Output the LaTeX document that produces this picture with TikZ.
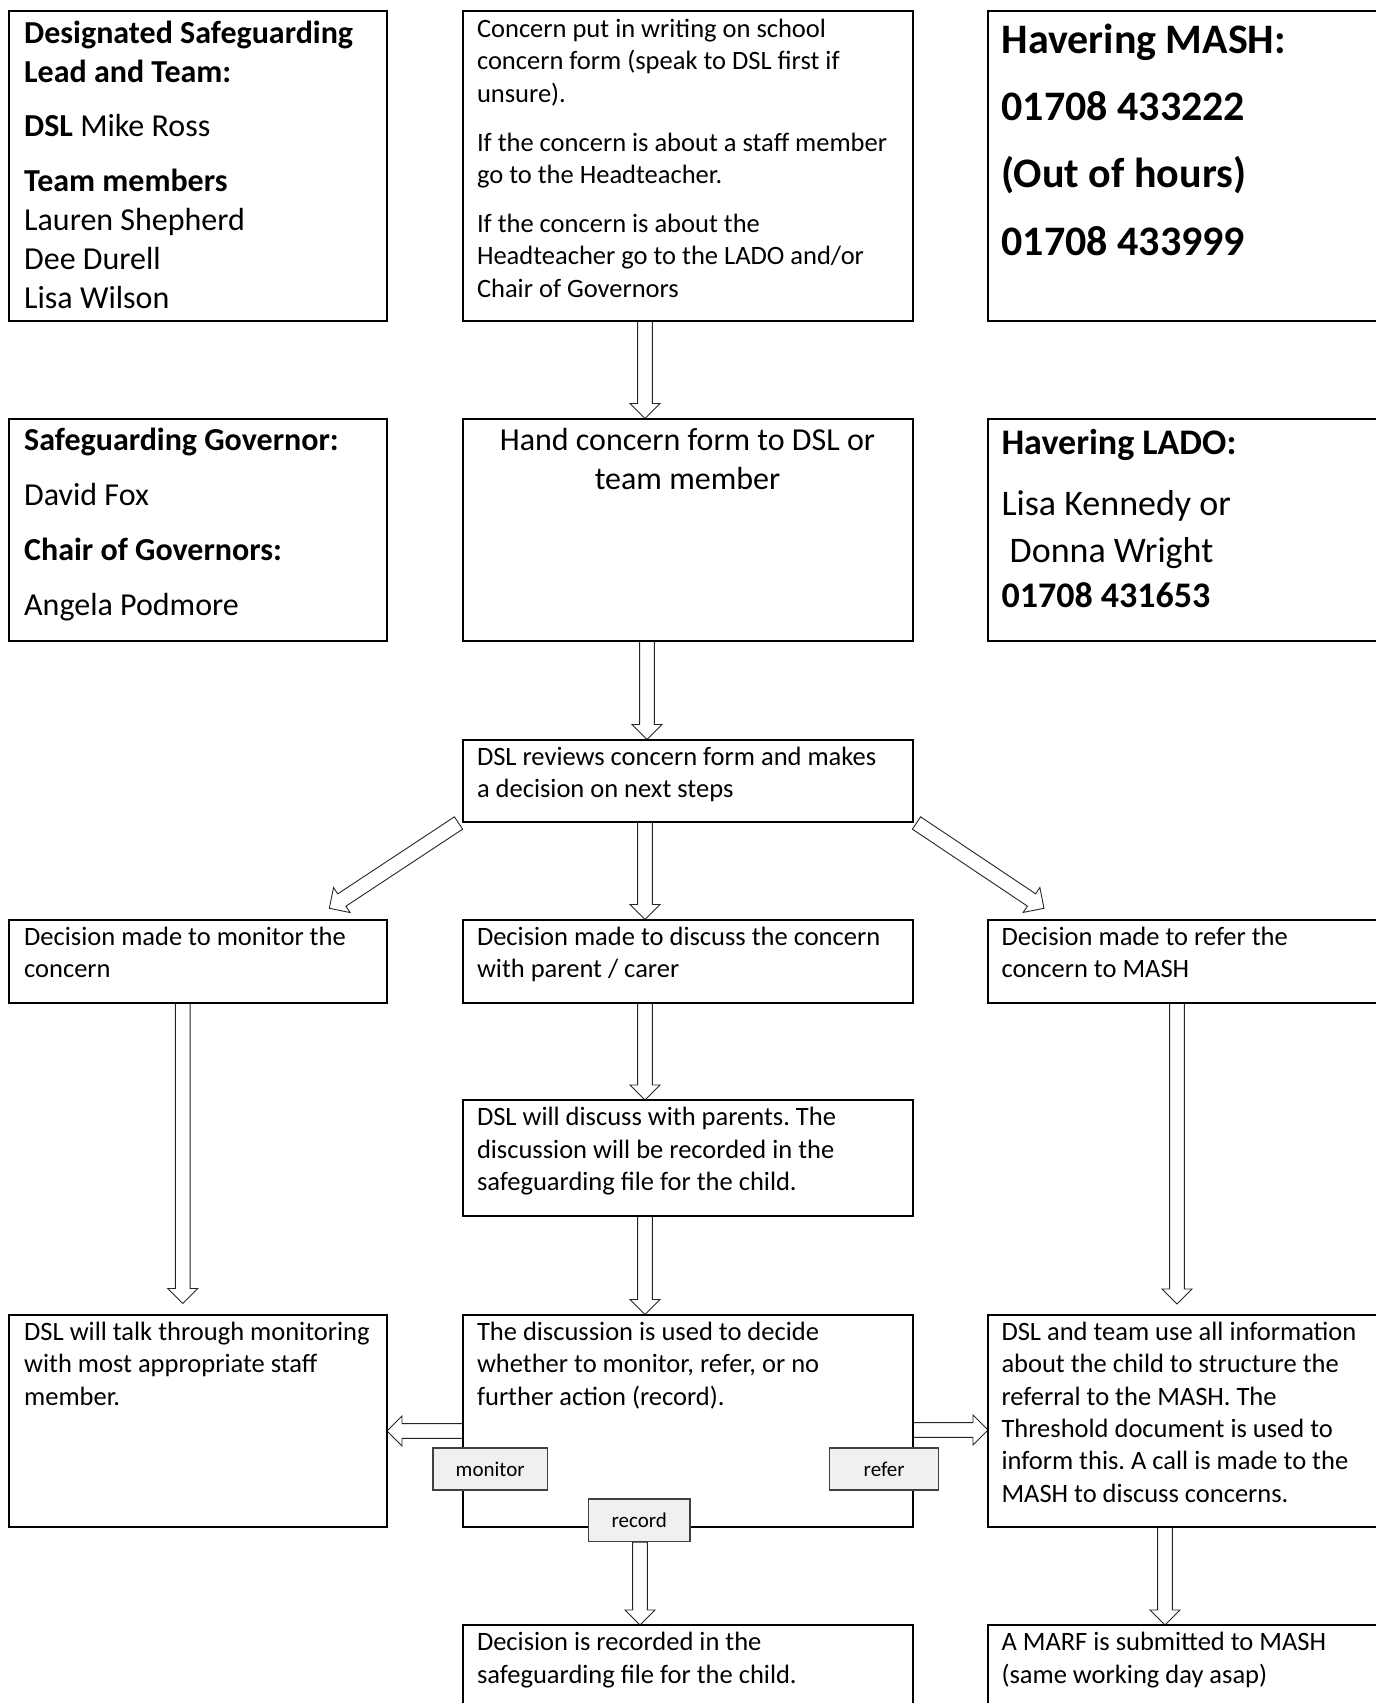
\documentclass[tikz,border=0pt]{standalone}
\usepackage{fontspec}
\setmainfont{Carlito}
\usetikzlibrary{calc}
\frenchspacing
\newcommand\topfix{\rule{0pt}{0.9em}}
\newcommand\blockarrow[2]{%
  \path let \p1=(#1), \p2=(#2),
    \n1={atan2(\y2-\y1,\x2-\x1)}, \n2={veclen(\x2-\x1,\y2-\y1)} in
    \pgfextra{\xdef\baAng{\n1}\xdef\baLen{\n2}\xdef\baX{\x1}\xdef\baY{\y1}};
  \begin{scope}[shift={(\baX,\baY)}, rotate=\baAng, x=1pt, y=1pt]
    \draw[blockarr] (0,-7.4) -- (\baLen-15,-7.4) -- (\baLen-15,-15) -- (\baLen,0)
      -- (\baLen-15,15) -- (\baLen-15,7.4) -- (0,7.4) -- cycle;
  \end{scope}}
\tikzset{
  box/.style={draw, line width=2pt, inner sep=0pt, outer sep=0pt, anchor=north west},
  txt/.style={anchor=north west, inner sep=0pt, align=left, font=\fontsize{26.5}{32.4}\selectfont},
  lab/.style={draw=black!75, fill=black!6, line width=1.2pt, inner sep=0pt,
    minimum height=42pt, font=\fontsize{21}{25}\selectfont},
  blockarr/.style={draw=black!85, fill=white, line width=0.9pt, line join=miter}
}
\begin{document}
\begin{tikzpicture}[x=1pt,y=-1pt]
\clip (0,0) rectangle (1376,1703);
\fill[white] (0,0) rectangle (1376,1703);

% boxes
\node[box, minimum width=378.5pt, minimum height=310pt] (l1) at (8.5,10.5) {};
\node[box, minimum width=450pt, minimum height=310pt] (m1) at (462.5,10.5) {};
\node[box, minimum width=420pt, minimum height=310pt] (r1) at (988,10.5) {};
\node[box, minimum width=378.5pt, minimum height=222.5pt] (l2) at (8.5,418.5) {};
\node[box, minimum width=450pt, minimum height=222.5pt] (m2) at (462.5,418.5) {};
\node[box, minimum width=420pt, minimum height=222.5pt] (r2) at (988,418.5) {};
\node[box, minimum width=450pt, minimum height=82.5pt] (m3) at (462.5,739.5) {};
\node[box, minimum width=378.5pt, minimum height=83.5pt] (l4) at (8.5,919.5) {};
\node[box, minimum width=450pt, minimum height=83.5pt] (m4) at (462.5,919.5) {};
\node[box, minimum width=420pt, minimum height=83.5pt] (r4) at (988,919.5) {};
\node[box, minimum width=450pt, minimum height=115.5pt] (m5) at (462.5,1100) {};
\node[box, minimum width=378.5pt, minimum height=212.5pt] (l6) at (8.5,1314.5) {};
\node[box, minimum width=450pt, minimum height=212.5pt] (m6) at (462.5,1314.5) {};
\node[box, minimum width=420pt, minimum height=212.5pt] (r6) at (988,1314.5) {};
\node[box, minimum width=450pt, minimum height=120pt] (m7) at (462.5,1625) {};
\node[box, minimum width=420pt, minimum height=120pt] (r7) at (988,1625) {};

% labels (positions)
\node[lab, minimum width=114.5pt] (mon) at (490.2,1469) {monitor};
\node[lab, minimum width=109pt] (ref) at (884.2,1469) {refer};
\node[lab, minimum width=101.5pt, minimum height=42.7pt] (rec) at (639.3,1520.3) {record};

% helper coordinates
\coordinate (xa) at (645,0);
\coordinate (xb) at (647,0);
\coordinate (xl) at (182.7,0);
\coordinate (xr) at (1177,0);
\coordinate (xrec) at (640,0);
\coordinate (xr2) at (1165,0);
\coordinate (yh) at (0,1431);
\coordinate (yh2) at (0,1430);

% arrows
\blockarrow{m1.south -| xa}{m2.north -| xa}
\blockarrow{m2.south -| xb}{m3.north -| xb}
\blockarrow{m3.south -| xa}{m4.north -| xa}
\blockarrow{m4.south -| xa}{m5.north -| xa}
\blockarrow{m5.south -| xa}{m6.north -| xa}
\blockarrow{$(m3.south west)+(-4,1)$}{$(l4.north east)+(-57.7,-11.2)$}
\blockarrow{$(m3.south east)+(4,1)$}{$(r4.north west)+(56,-11.2)$}
\blockarrow{l4.south -| xl}{$(l6.north -| xl)+(0,-11)$}
\blockarrow{r4.south -| xr}{$(r6.north -| xr)+(0,-10.5)$}
\blockarrow{m6.west |- yh}{l6.east |- yh}
\blockarrow{m6.east |- yh2}{r6.west |- yh2}
\blockarrow{rec.south -| xrec}{m7.north -| xrec}
\blockarrow{r6.south -| xr2}{r7.north -| xr2}

% redraw boxes on top of arrow tails
\foreach \b in {l1,m1,r1,l2,m2,r2,m3,l4,m4,r4,m5,l6,m6,r6,m7,r7}
  \draw[line width=2pt] (\b.north west) rectangle (\b.south east);
\node[lab, minimum width=114.5pt] at (mon) {monitor};
\node[lab, minimum width=109pt] at (ref) {refer};
\node[lab, minimum width=101.5pt, minimum height=42.7pt] at (rec) {record};

% texts
\node[txt, font=\fontsize{32}{39}\selectfont] (tl1) at ($(l1.north west)+(15.5,3.5)$)
 {\topfix\textbf{Designated Safeguarding}\\\textbf{Lead and Team:}\\[15.5pt]\textbf{DSL} Mike Ross\\[16pt]\textbf{Team members}\\Lauren Shepherd\\Dee Durell\\Lisa Wilson};
\node[txt] (tm1) at ($(m1.north west)+(14.3,3)$)
 {\topfix Concern put in writing on school\\concern form (speak to DSL first if\\unsure).\\[16.5pt]If the concern is about a staff member\\go to the Headteacher.\\[16.5pt]If the concern is about the\\Headteacher go to the LADO and/or\\Chair of Governors};
\node[txt, font=\fontsize{42}{51.2}\selectfont\bfseries] (tr1) at ($(r1.north west)+(13.3,4.5)$)
 {\topfix Havering MASH:\\[16pt]01708 433222\\[16pt](Out of hours)\\[17pt]01708 433999};
\node[txt, font=\fontsize{32}{39}\selectfont] (tl2) at ($(l2.north west)+(15.5,2.8)$)
 {\topfix\textbf{Safeguarding Governor:}\\[16pt]David Fox\\[16pt]\textbf{Chair of Governors:}\\[16pt]Angela Podmore};
\node[txt, anchor=north, align=center, font=\fontsize{32}{39}\selectfont] (tm2) at ($(m2.north)+(0,2.5)$)
 {\topfix Hand concern form to DSL or\\team member};
\node[txt, font=\fontsize{36}{47}\selectfont] (tr2) at ($(r2.north west)+(13.3,3)$)
 {\topfix\textbf{Havering LADO:}\\[14pt]Lisa Kennedy or\\\ Donna Wright\\[-2pt]\textbf{01708 431653}};
\node[txt] (tm3) at ($(m3.north west)+(14.3,1.8)$)
 {\topfix DSL reviews concern form and makes\\a decision on next steps};
\node[txt] (tl4) at ($(l4.north west)+(15.5,1.8)$)
 {\topfix Decision made to monitor the\\concern};
\node[txt] (tm4) at ($(m4.north west)+(14.3,1.8)$)
 {\topfix Decision made to discuss the concern\\with parent / carer};
\node[txt] (tr4) at ($(r4.north west)+(13.3,1.8)$)
 {\topfix Decision made to refer the\\concern to MASH};
\node[txt] (tm5) at ($(m5.north west)+(14.3,1.8)$)
 {\topfix DSL will discuss with parents. The\\discussion will be recorded in the\\safeguarding file for the child.};
\node[txt] (tl6) at ($(l6.north west)+(15.5,1.8)$)
 {\topfix DSL will talk through monitoring\\with most appropriate staff\\member.};
\node[txt] (tm6) at ($(m6.north west)+(14.3,1.8)$)
 {\topfix The discussion is used to decide\\whether to monitor, refer, or no\\further action (record).};
\node[txt] (tr6) at ($(r6.north west)+(13.3,1.8)$)
 {\topfix DSL and team use all information\\about the child to structure the\\referral to the MASH. The\\Threshold document is used to\\inform this. A call is made to the\\MASH to discuss concerns.};
\node[txt] (tm7) at ($(m7.north west)+(14.3,1.8)$)
 {\topfix Decision is recorded in the\\safeguarding file for the child.};
\node[txt] (tr7) at ($(r7.north west)+(13.3,1.8)$)
 {\topfix A MARF is submitted to MASH\\(same working day asap)};
\end{tikzpicture}
\end{document}
